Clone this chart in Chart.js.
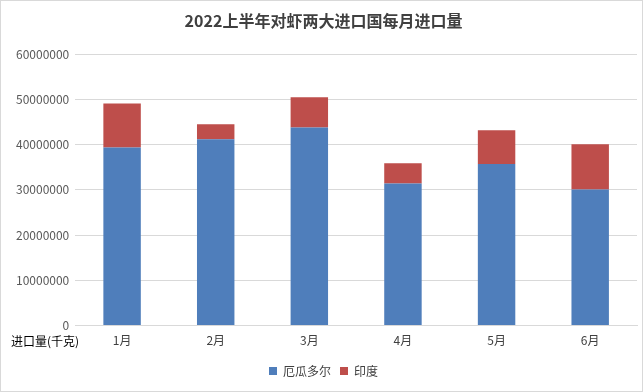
<!DOCTYPE html>
<html>
<head>
<meta charset="utf-8">
<script src="https://cdn.jsdelivr.net/npm/chart.js@4"></script>
<style>
  html, body { margin: 0; padding: 0; background: #fff; }
  #wrap { position: relative; width: 641px; height: 390px; border: 1px solid #d9d9d9; }
</style>
</head>
<body>
<div id="wrap"><canvas id="shrimpChart" width="641" height="390"></canvas></div>
<script>
const months = ['1月', '2月', '3月', '4月', '5月', '6月'];
const ecuador = [39400000, 41200000, 43800000, 31400000, 35700000, 30100000];
const india = [9700000, 3300000, 6700000, 4500000, 7500000, 10000000];
const unitLabel = '进口量(千克)';
const fontFamily = '"Microsoft YaHei", "Noto Sans CJK SC", "DejaVu Sans", sans-serif';

// draws the unit label left of the month labels
const unitPlugin = {
    id: 'unitLabel',
    afterDraw(chart) {
        const ctx = chart.ctx;
        const x = chart.scales.x;
        ctx.save();
        ctx.font = '12px ' + fontFamily;
        ctx.fillStyle = '#000';
        ctx.textBaseline = 'middle';
        ctx.fillText(unitLabel, 10, x.top + 16);
        ctx.restore();
    }
};

const ctx = document.getElementById('shrimpChart').getContext('2d');
new Chart(ctx, {
    type: 'bar',
    data: {
        labels: months,
        datasets: [
            { label: '厄瓜多尔', data: ecuador, backgroundColor: '#4F7EBB' },
            { label: '印度', data: india, backgroundColor: '#BE4E4B' }
        ]
    },
    options: {
        responsive: false,
        animation: false,
        layout: { padding: { left: 9, right: 5, top: 0, bottom: 4 } },
        datasets: { bar: { categoryPercentage: 1, barPercentage: 0.4 } },
        plugins: {
            title: {
                display: true,
                text: '2022上半年对虾两大进口国每月进口量',
                color: '#404040',
                font: { size: 16, weight: 'bold', family: fontFamily },
                padding: { top: 10, bottom: 24 }
            },
            legend: {
                position: 'bottom',
                labels: {
                    boxWidth: 8, boxHeight: 8, padding: 9,
                    color: '#404040',
                    font: { size: 12, family: fontFamily }
                }
            },
            tooltip: { enabled: false }
        },
        scales: {
            x: {
                stacked: true,
                grid: { display: false, drawTicks: false },
                border: { color: '#d9d9d9' },
                ticks: { color: '#404040', font: { size: 12, family: fontFamily }, padding: 8 }
            },
            y: {
                stacked: true,
                min: 0, max: 60000000,
                grid: { color: '#d9d9d9', drawTicks: false },
                border: { display: false },
                ticks: {
                    stepSize: 10000000,
                    color: '#595959',
                    padding: 6,
                    font: { size: 12, family: fontFamily },
                    callback: v => String(v)
                }
            }
        }
    },
    plugins: [unitPlugin]
});
</script>
</body>
</html>
